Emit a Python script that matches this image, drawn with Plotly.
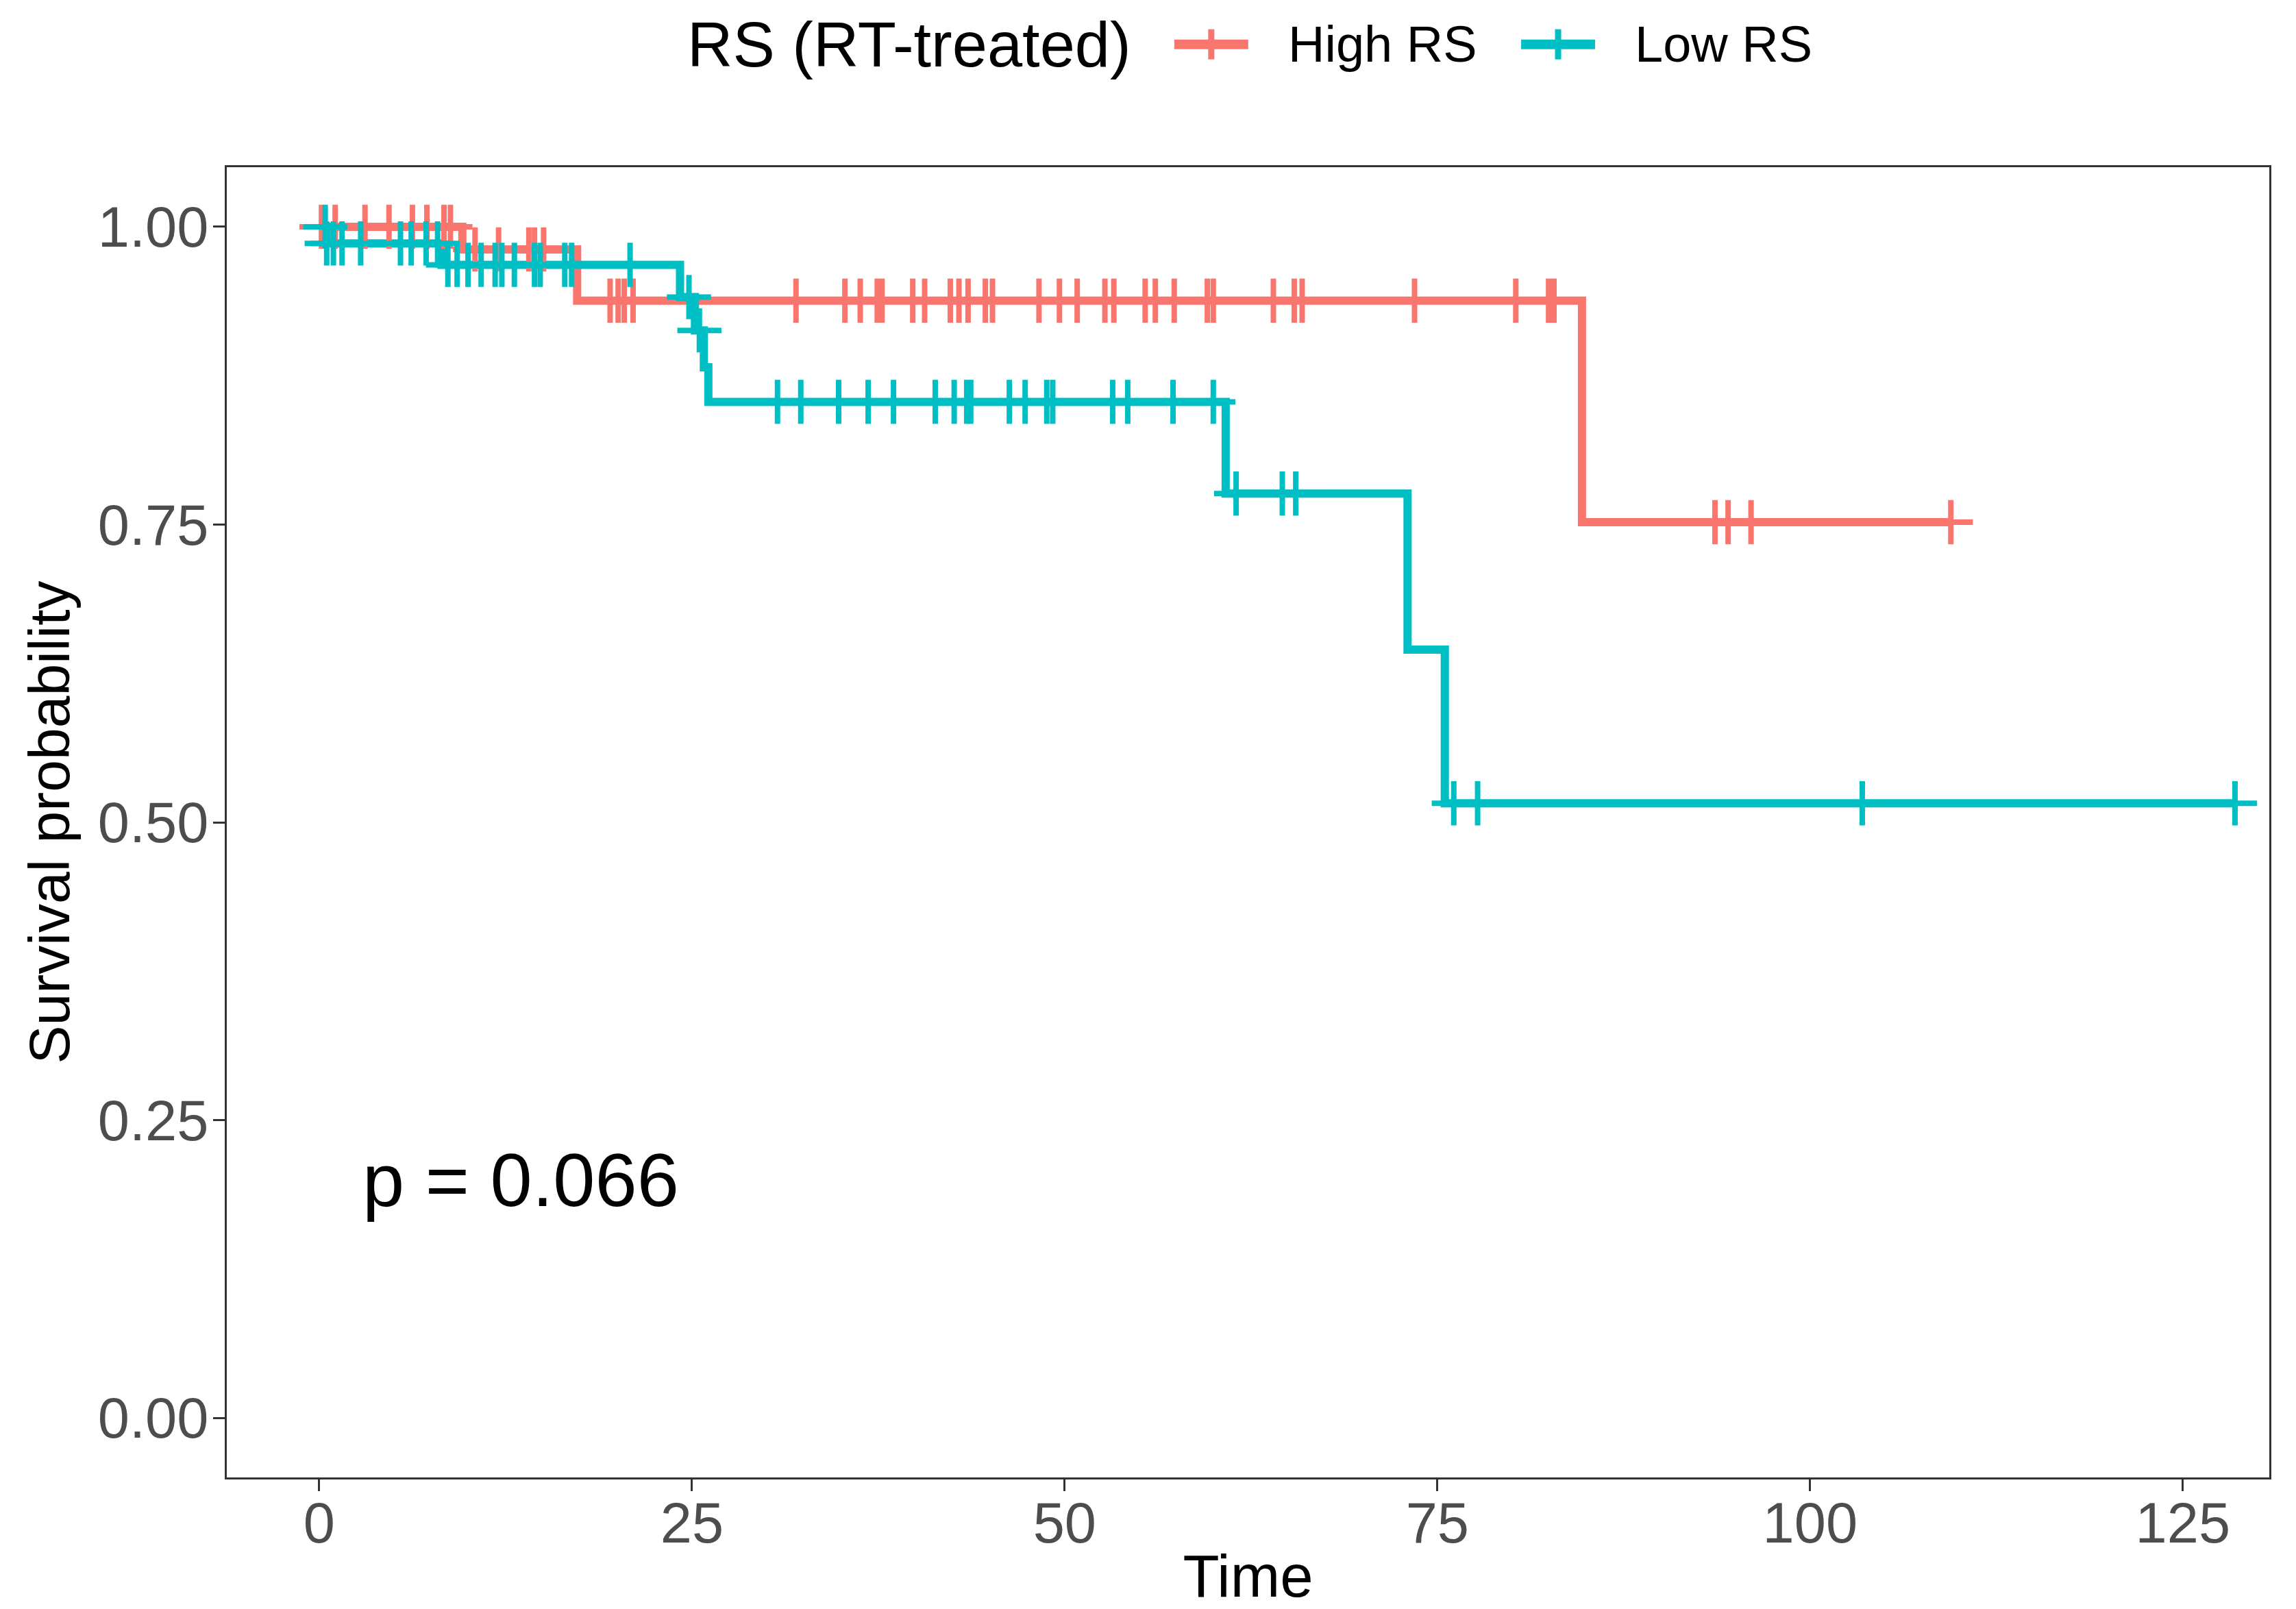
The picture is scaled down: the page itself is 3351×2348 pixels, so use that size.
import numpy as np
import plotly.graph_objects as go

# Kaplan-Meier estimates (time, survival after the event)
high_event_t = [9.6, 17.3, 84.7]
high_event_s = [0.981, 0.938, 0.752]
high_censor_t = [0.15, 1.07, 3.07, 4.68, 6.25, 7.22, 8.37, 8.80,
                 10.45, 12.03, 14.06, 14.44, 15.05,
                 19.51, 20.05, 20.46, 21.05, 31.98, 35.26, 36.29, 37.43, 37.75,
                 39.81, 40.61, 42.33, 42.91, 43.52, 44.68, 45.16, 48.28, 49.65,
                 50.84, 52.70, 53.30, 55.40, 56.08, 57.35, 59.57, 59.97, 64.0,
                 65.4, 65.93, 73.47, 80.26, 82.46, 82.82,
                 93.62, 94.50, 96.04, 109.44]

low_event_t = [0.5, 8.2, 24.2, 25.2, 25.8, 26.1, 60.8, 73.0, 75.5]
low_event_s = [0.986, 0.968, 0.941, 0.913, 0.882, 0.853, 0.776, 0.645, 0.516]
low_censor_t = [0.4, 0.5, 0.95, 1.53, 2.78, 5.45, 6.17, 7.17, 7.94,
                8.63, 9.25, 9.98, 10.86, 11.8, 12.25, 13.09, 14.44, 14.82,
                16.47, 16.93, 20.85, 24.8, 25.5,
                30.74, 32.30, 34.84, 36.82, 38.52, 41.32, 42.59, 43.43, 43.70,
                46.29, 47.35, 48.80, 49.20, 53.22, 54.23, 57.27, 59.97,
                61.5, 64.6, 65.5, 76.1, 77.7, 103.5, 128.5]

groups = ['High RS', 'Low RS']
colors = ['#F8766D', '#00BFC4']
legend_title = 'RS (RT-treated)'
p_text = 'p = 0.066'

FONT = 'Liberation Sans, Arial, Helvetica, sans-serif'


def step_curve(event_t, event_s, censor_t):
    xs = [0] + list(event_t) + [max(censor_t)]
    ys = [1.0] + list(event_s) + [event_s[-1]]
    levels = np.array([1.0] + list(event_s))
    idx = np.searchsorted(np.array(event_t), np.array(censor_t), side='right')
    return xs, ys, levels[idx]


fig = go.Figure()
curves = [step_curve(high_event_t, high_event_s, high_censor_t),
          step_curve(low_event_t, low_event_s, low_censor_t)]
censors = [high_censor_t, low_censor_t]

for (xs, ys, _), name, col in zip(curves, groups, colors):
    fig.add_trace(go.Scatter(x=xs, y=ys, mode='lines', line=dict(color=col, width=12, shape='hv'),
                             name=name, showlegend=False, hoverinfo='skip'))

for (_, _, cy), ct, name, col in zip(curves, censors, groups, colors):
    fig.add_trace(go.Scatter(x=ct, y=cy, mode='markers', name=name, showlegend=False,
                             marker=dict(symbol='cross-thin', size=46, color=col,
                                         line=dict(width=8, color=col))))

fig.add_annotation(x=2.8, y=0.2, xref='x', yref='y', text=p_text, showarrow=False,
                   xanchor='left', yanchor='middle', font=dict(size=110, color='black', family=FONT))

# legend drawn by hand (ggplot-style keys: wide bar with a cross)
leg_y = 1.0938
fig.add_annotation(x=0.2248, y=leg_y, xref='paper', yref='paper', text=legend_title,
                   showarrow=False, xanchor='left', yanchor='middle',
                   font=dict(size=92, color='black', family=FONT))
key_x0 = [0.4639, 0.6337]
key_w = 0.0362
for name, col, x0 in zip(groups, colors, key_x0):
    xc = x0 + key_w / 2
    fig.add_shape(type='line', xref='paper', yref='paper', x0=x0, x1=x0 + key_w, y0=leg_y, y1=leg_y,
                  line=dict(color=col, width=14))
    fig.add_shape(type='line', xref='paper', yref='paper', x0=xc, x1=xc, y0=leg_y - 0.0115, y1=leg_y + 0.0115,
                  line=dict(color=col, width=9))
    fig.add_annotation(x=x0 + key_w + 0.0188, y=leg_y, xref='paper', yref='paper', text=name,
                       showarrow=False, xanchor='left', yanchor='middle',
                       font=dict(size=74, color='black', family=FONT))

axis_common = dict(showline=True, linecolor='#333333', linewidth=3, mirror=True,
                   ticks='outside', ticklen=17, tickwidth=3, tickcolor='#333333',
                   tickfont=dict(size=83, color='#4D4D4D', family=FONT),
                   showgrid=False, zeroline=False, automargin=False)

fig.update_layout(
    width=3335, height=2340,
    margin=dict(l=323, r=31, t=236, b=192),
    paper_bgcolor='white', plot_bgcolor='white',
    font=dict(family=FONT, color='black'),
    showlegend=False,
    xaxis=dict(range=[-6.2, 130.8], tickvals=[0, 25, 50, 75, 100, 125], ticklabelstandoff=-25,
               title=dict(text='Time', font=dict(size=87, color='black'), standoff=63),
               **axis_common),
    yaxis=dict(range=[-0.05, 1.05], tickvals=[0, 0.25, 0.5, 0.75, 1.0],
               ticktext=['0.00', '0.25', '0.50', '0.75', '1.00'], ticklabelstandoff=-10,
               title=dict(text='Survival probability', font=dict(size=84, color='black'), standoff=14),
               **axis_common),
)

fig.write_html('out.html')
